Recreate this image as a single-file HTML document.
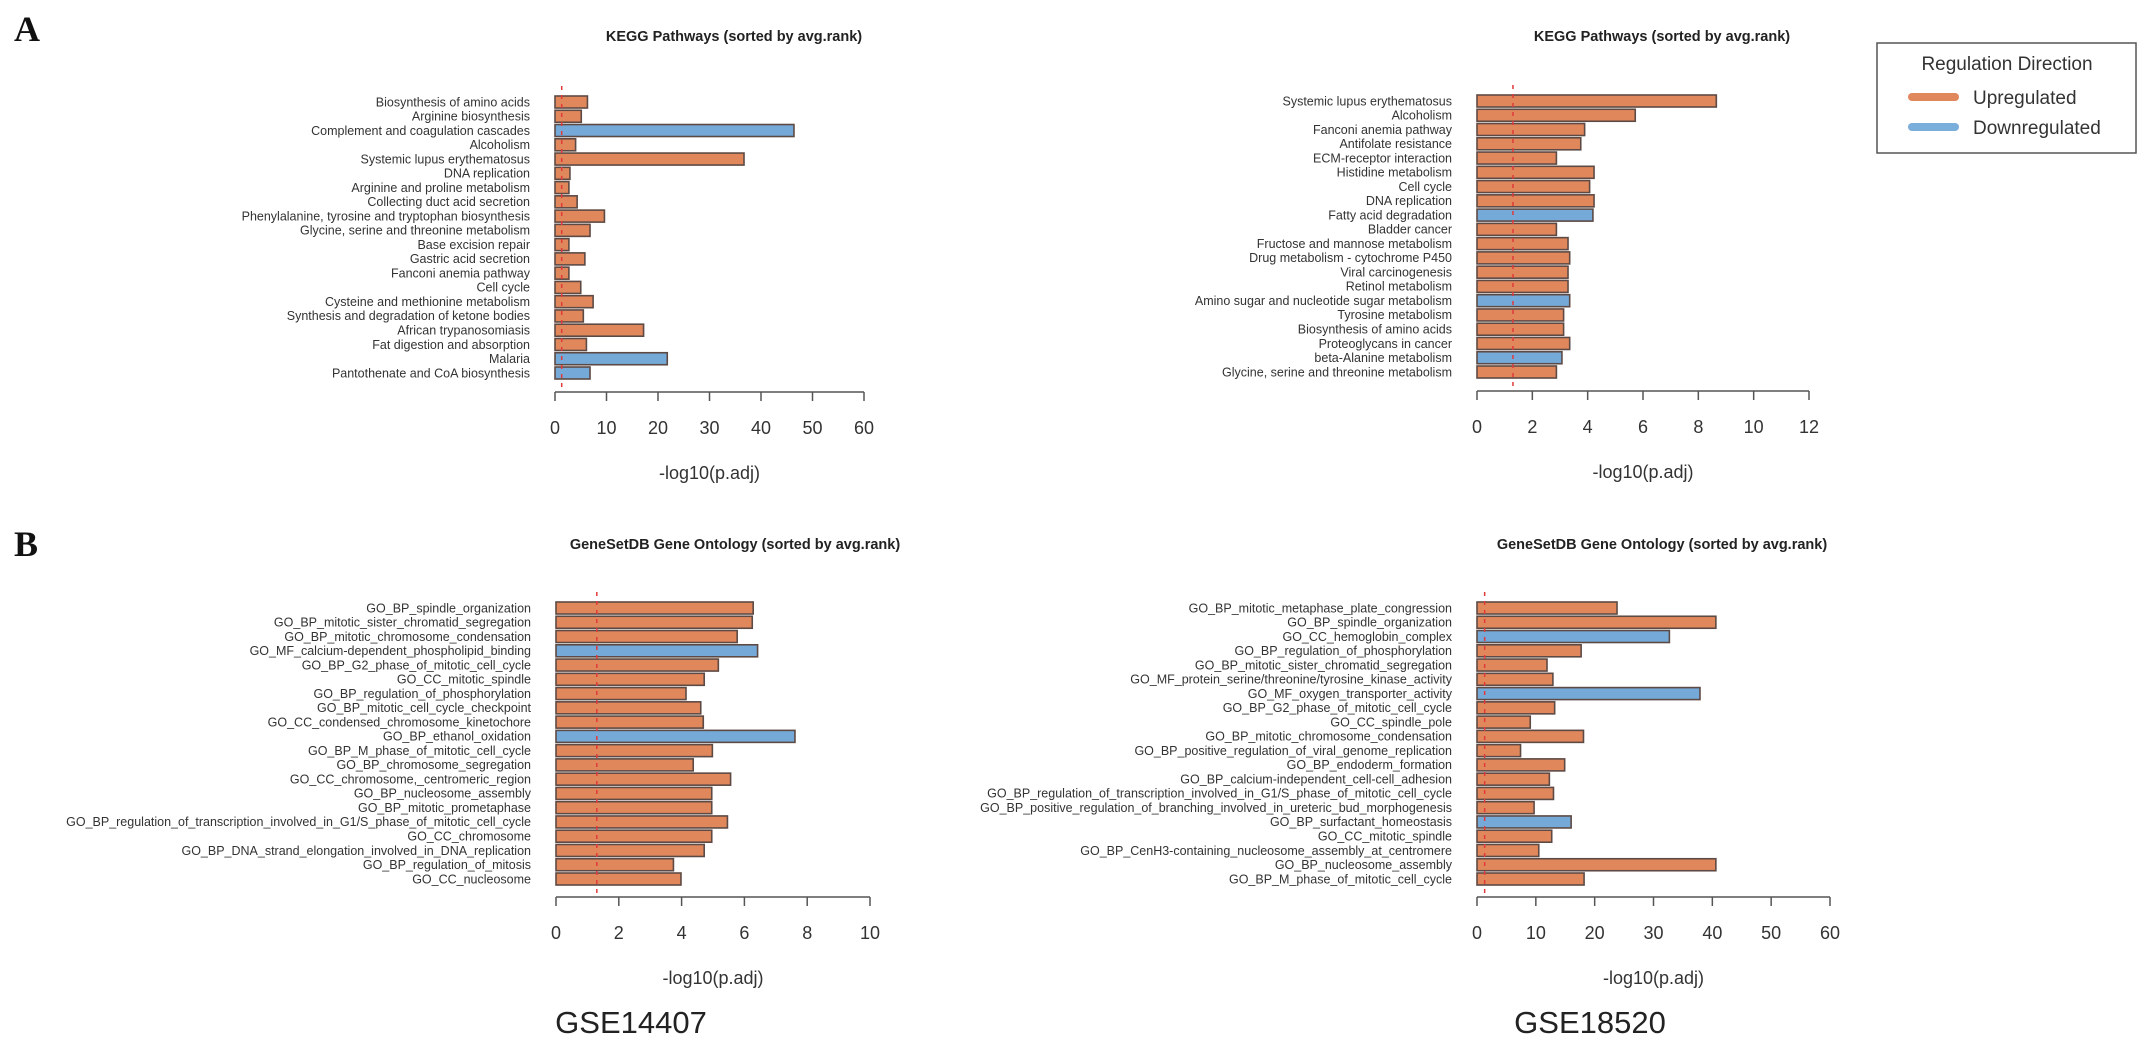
<!DOCTYPE html>
<html><head><meta charset="utf-8"><style>
html,body{margin:0;padding:0;background:#fff;}
svg{display:block;font-family:"Liberation Sans",Arial,sans-serif;}
</style></head><body>
<svg id="fig" width="2150" height="1056" viewBox="0 0 2150 1056" xmlns="http://www.w3.org/2000/svg">
<rect width="2150" height="1056" fill="#fff"/>
<text x="14" y="41" font-family="Liberation Serif,serif" font-weight="bold" font-size="36" fill="#111">A</text>
<text x="14" y="556" font-family="Liberation Serif,serif" font-weight="bold" font-size="36" fill="#111">B</text>
<text x="631" y="1033" text-anchor="middle" font-size="31" fill="#222">GSE14407</text>
<text x="1590" y="1033" text-anchor="middle" font-size="31" fill="#222">GSE18520</text>
<g>
<rect x="1877" y="43" width="259" height="110" fill="#fff" stroke="#555" stroke-width="1.5"/>
<text x="2007" y="70" text-anchor="middle" font-size="19" fill="#333">Regulation Direction</text>
<line x1="1912" y1="97" x2="1955" y2="97" stroke="#e0875c" stroke-width="8" stroke-linecap="round"/>
<text x="1973" y="104" font-size="19" fill="#333">Upregulated</text>
<line x1="1912" y1="127" x2="1955" y2="127" stroke="#7aaedb" stroke-width="8" stroke-linecap="round"/>
<text x="1973" y="134" font-size="19" fill="#333">Downregulated</text>
</g>
</svg>
<script>
// Panel A left: KEGG GSE14407
const keggLeftCats = ["Biosynthesis of amino acids","Arginine biosynthesis","Complement and coagulation cascades","Alcoholism","Systemic lupus erythematosus","DNA replication","Arginine and proline metabolism","Collecting duct acid secretion","Phenylalanine, tyrosine and tryptophan biosynthesis","Glycine, serine and threonine metabolism","Base excision repair","Gastric acid secretion","Fanconi anemia pathway","Cell cycle","Cysteine and methionine metabolism","Synthesis and degradation of ketone bodies","African trypanosomiasis","Fat digestion and absorption","Malaria","Pantothenate and CoA biosynthesis"];
const keggLeftVals = [6.3,5.1,46.4,4.0,36.7,2.9,2.7,4.3,9.6,6.8,2.7,5.8,2.7,5.0,7.4,5.5,17.2,6.1,21.8,6.8];
const keggLeftDir = ["U","U","D","U","U","U","U","U","U","U","U","U","U","U","U","U","U","U","D","D"];
const keggLeftTicks = [0,10,20,30,40,50,60];
// Panel A right: KEGG GSE18520
const keggRightCats = ["Systemic lupus erythematosus","Alcoholism","Fanconi anemia pathway","Antifolate resistance","ECM-receptor interaction","Histidine metabolism","Cell cycle","DNA replication","Fatty acid degradation","Bladder cancer","Fructose and mannose metabolism","Drug metabolism - cytochrome P450","Viral carcinogenesis","Retinol metabolism","Amino sugar and nucleotide sugar metabolism","Tyrosine metabolism","Biosynthesis of amino acids","Proteoglycans in cancer","beta-Alanine metabolism","Glycine, serine and threonine metabolism"];
const keggRightVals = [8.65,5.72,3.89,3.75,2.87,4.23,4.07,4.23,4.19,2.87,3.29,3.35,3.29,3.29,3.35,3.13,3.13,3.35,3.07,2.87];
const keggRightDir = ["U","U","U","U","U","U","U","U","D","U","U","U","U","U","D","U","U","U","D","U"];
const keggRightTicks = [0,2,4,6,8,10,12];
// Panel B left: GO GSE14407
const goLeftCats = ["GO_BP_spindle_organization","GO_BP_mitotic_sister_chromatid_segregation","GO_BP_mitotic_chromosome_condensation","GO_MF_calcium-dependent_phospholipid_binding","GO_BP_G2_phase_of_mitotic_cell_cycle","GO_CC_mitotic_spindle","GO_BP_regulation_of_phosphorylation","GO_BP_mitotic_cell_cycle_checkpoint","GO_CC_condensed_chromosome_kinetochore","GO_BP_ethanol_oxidation","GO_BP_M_phase_of_mitotic_cell_cycle","GO_BP_chromosome_segregation","GO_CC_chromosome,_centromeric_region","GO_BP_nucleosome_assembly","GO_BP_mitotic_prometaphase","GO_BP_regulation_of_transcription_involved_in_G1/S_phase_of_mitotic_cell_cycle","GO_CC_chromosome","GO_BP_DNA_strand_elongation_involved_in_DNA_replication","GO_BP_regulation_of_mitosis","GO_CC_nucleosome"];
const goLeftVals = [6.28,6.25,5.77,6.42,5.17,4.72,4.14,4.61,4.69,7.61,4.98,4.37,5.56,4.96,4.96,5.46,4.96,4.72,3.74,3.98];
const goLeftDir = ["U","U","U","D","U","U","U","U","U","D","U","U","U","U","U","U","U","U","U","U"];
const goLeftTicks = [0,2,4,6,8,10];
// Panel B right: GO GSE18520
const goRightCats = ["GO_BP_mitotic_metaphase_plate_congression","GO_BP_spindle_organization","GO_CC_hemoglobin_complex","GO_BP_regulation_of_phosphorylation","GO_BP_mitotic_sister_chromatid_segregation","GO_MF_protein_serine/threonine/tyrosine_kinase_activity","GO_MF_oxygen_transporter_activity","GO_BP_G2_phase_of_mitotic_cell_cycle","GO_CC_spindle_pole","GO_BP_mitotic_chromosome_condensation","GO_BP_positive_regulation_of_viral_genome_replication","GO_BP_endoderm_formation","GO_BP_calcium-independent_cell-cell_adhesion","GO_BP_regulation_of_transcription_involved_in_G1/S_phase_of_mitotic_cell_cycle","GO_BP_positive_regulation_of_branching_involved_in_ureteric_bud_morphogenesis","GO_BP_surfactant_homeostasis","GO_CC_mitotic_spindle","GO_BP_CenH3-containing_nucleosome_assembly_at_centromere","GO_BP_nucleosome_assembly","GO_BP_M_phase_of_mitotic_cell_cycle"];
const goRightVals = [23.8,40.6,32.7,17.7,11.9,12.9,37.9,13.2,9.05,18.1,7.4,14.9,12.3,13.0,9.7,16.0,12.7,10.5,40.6,18.2];
const goRightDir = ["U","U","D","U","U","U","D","U","U","U","U","U","U","U","U","D","U","U","U","U"];
const goRightTicks = [0,10,20,30,40,50,60];
const threshold = 1.3;

const NS = "http://www.w3.org/2000/svg";
const svg = document.getElementById("fig");
function mk(tag, attrs, parent){
  const e = document.createElementNS(NS, tag);
  for (const k in attrs) e.setAttribute(k, attrs[k]);
  (parent||svg).appendChild(e);
  return e;
}
function panel(id, title, cats, vals, dirs, ticks, x0, x1, yTop, yBot, axisY, titleX, titleY){
  const g = mk("g", {});
  
  
  const max = ticks[ticks.length-1];
  const xs = v => x0 + (x1-x0)*v/max;
  const n = cats.length;
  const step = (yBot-yTop)/(n-1);
  const ys = i => yTop + i*step;
  const t = mk("text", {x:titleX, y:titleY, "text-anchor":"middle", "font-size":"14.5", "font-weight":"bold", fill:"#222"}, g);
  t.textContent = title;
  
  
  for (let i=0;i<n;i++){
    const y = ys(i);
    const r = mk("rect", {x:x0, y:y-6, width:xs(vals[i])-x0, height:12, fill: dirs[i]==="D"?"#74a9d8":"#e0875c", stroke:"#5e4a44", "stroke-width":"1.6"}, g);
    
    
    const l = mk("text", {x:x0-25, y:y+4.3, "text-anchor":"end", "font-size":"12.5", fill:"#333"}, g);
    l.textContent = cats[i];
    
    
  }
  const d = mk("line", {x1:xs(threshold), x2:xs(threshold), y1:yTop-16, y2:axisY, stroke:"#e03a3a", "stroke-width":"1.5", "stroke-dasharray":"4,5"}, g);
  
  
  const ax = mk("line", {x1:x0, x2:x1, y1:axisY, y2:axisY, stroke:"#555", "stroke-width":"1.5"}, g);
  
  
  for (const tv of ticks){
    const tk = mk("line", {x1:xs(tv), x2:xs(tv), y1:axisY, y2:axisY+9, stroke:"#555", "stroke-width":"1.5"}, g);
    
    
    const tl = mk("text", {x:xs(tv), y:axisY+42, "text-anchor":"middle", "font-size":"18", fill:"#333"}, g);
    tl.textContent = tv;
    
    
  }
  const at = mk("text", {x:(x0+x1)/2, y:axisY+87, "text-anchor":"middle", "font-size":"18", fill:"#333"}, g);
  at.textContent = "-log10(p.adj)";
  
  
}
panel("kegg-gse14407-chart","KEGG Pathways (sorted by avg.rank)",keggLeftCats,keggLeftVals,keggLeftDir,keggLeftTicks,555,864,102,373,392,734,41);
panel("kegg-gse18520-chart","KEGG Pathways (sorted by avg.rank)",keggRightCats,keggRightVals,keggRightDir,keggRightTicks,1477,1809,101,372,391,1662,41);
panel("go-gse14407-chart","GeneSetDB Gene Ontology (sorted by avg.rank)",goLeftCats,goLeftVals,goLeftDir,goLeftTicks,556,870,608,879,897,735,549);
panel("go-gse18520-chart","GeneSetDB Gene Ontology (sorted by avg.rank)",goRightCats,goRightVals,goRightDir,goRightTicks,1477,1830,608,879,897,1662,549);
</script>
</body></html>
